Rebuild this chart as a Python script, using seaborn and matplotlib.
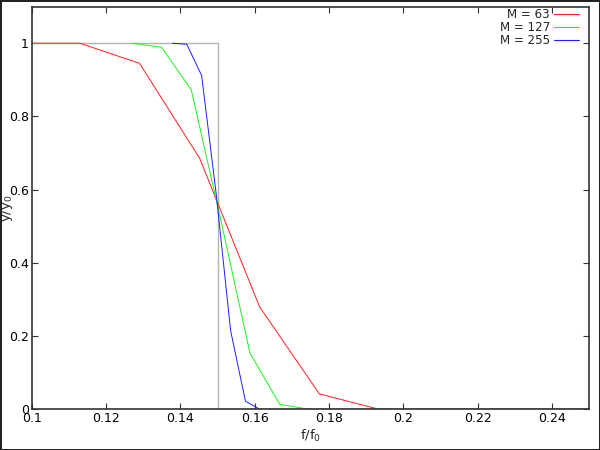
import numpy as np
import pandas as pd
import seaborn as sns
import matplotlib
matplotlib.use("Agg")
import matplotlib.pyplot as plt
from matplotlib.lines import Line2D
from matplotlib.ticker import FormatStrFormatter, MultipleLocator

# values (f/f0, y/y0)
f_63 = [0.0968, 0.1129, 0.1290, 0.1452, 0.1613, 0.1774, 0.1935, 0.25]
y_63 = [1.0, 1.0, 0.945, 0.685, 0.28, 0.042, 0.0, 0.0]

f_127 = [0.1270, 0.1349, 0.1429, 0.1508, 0.1587, 0.1667, 0.1746, 0.25]
y_127 = [1.0, 0.989, 0.873, 0.52, 0.154, 0.014, 0.0, 0.0]

f_255 = [0.1378, 0.1417, 0.1457, 0.1496, 0.1535, 0.1575, 0.1614, 0.25]
y_255 = [1.0, 0.997, 0.912, 0.59, 0.215, 0.022, 0.0, 0.0]

ideal_f = [0.1, 0.15, 0.15, 0.25]
ideal_y = [1.0, 1.0, 0.0, 0.0]

labels = ["M = 63", "M = 127", "M = 255"]
colors = {"M = 63": "#ff2020", "M = 127": "#20ee20", "M = 255": "#2020ff"}

df = pd.concat([
    pd.DataFrame({"f": f_63, "y": y_63, "M": labels[0]}),
    pd.DataFrame({"f": f_127, "y": y_127, "M": labels[1]}),
    pd.DataFrame({"f": f_255, "y": y_255, "M": labels[2]}),
])

sns.set_style("ticks")
plt.rcParams['font.family'] = ['DejaVu Sans']

fig = plt.figure(figsize=(6, 4.5), dpi=100)
fig.patch.set_edgecolor("#222222")
fig.patch.set_linewidth(2.0)
ax = fig.add_axes([0.053, 0.0904, 0.929, 0.895])

ax.plot(ideal_f, ideal_y, color="#b4b4b4", lw=1.0, zorder=1)
sns.lineplot(data=df, x="f", y="y", hue="M", palette=colors, estimator=None,
             sort=False, lw=0.7, ax=ax, zorder=2, legend=False)

ax.set_xlim(0.1, 0.25)
ax.set_ylim(0, 1.1)
ax.xaxis.set_major_locator(MultipleLocator(0.02))
ax.yaxis.set_major_locator(MultipleLocator(0.2))
ax.xaxis.set_major_formatter(FormatStrFormatter('%g'))
ax.yaxis.set_major_formatter(FormatStrFormatter('%g'))
ax.tick_params(direction="in", top=True, right=True, length=4, width=0.8,
               labelsize=9, colors="#333333", labelcolor="black", pad=2)
for s in ax.spines.values():
    s.set_linewidth(1.2)
    s.set_color("#333333")

ax.set_xlabel("f/f$_0$", fontsize=9.5, labelpad=2)
ax.set_ylabel("y/y$_0$", fontsize=9.5)
ax.yaxis.set_label_coords(-0.031, 0.5)

handles = [Line2D([], [], color=colors[l], lw=0.8) for l in labels]
ax.legend(handles, labels, loc="upper right", frameon=False, markerfirst=False,
          fontsize=8.6, handlelength=2.1, handletextpad=0.3, labelspacing=0.0,
          borderaxespad=0.0, bbox_to_anchor=(0.99, 1.008))

fig.savefig("out.png", dpi=100, edgecolor=fig.get_edgecolor())
